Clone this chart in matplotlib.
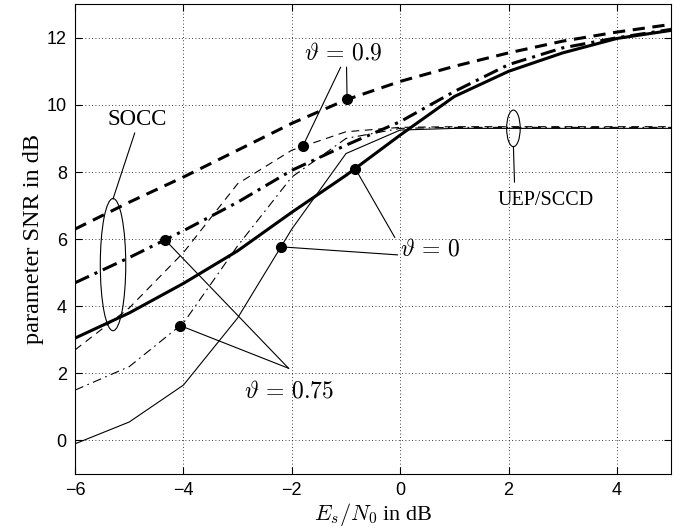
import numpy as np
import matplotlib
matplotlib.use('Agg')
import matplotlib.pyplot as plt
from matplotlib.patches import Ellipse

# Es/N0 in dB
esn0 = [-6, -5, -4, -3, -2, -1, 0, 1, 2, 3, 4, 5]

# SOCC curves (thick)
socc_09 = [6.3, 7.1, 7.85, 8.65, 9.45, 10.15, 10.7, 11.15, 11.55, 11.9, 12.17, 12.4]
socc_075 = [4.7, 5.45, 6.25, 7.1, 8.05, 8.8, 9.5, 10.4, 11.2, 11.7, 12.0, 12.25]
socc_0 = [3.05, 3.8, 4.68, 5.65, 6.8, 7.9, 9.1, 10.25, 11.0, 11.55, 11.98, 12.22]

# UEP/SCCD curves (thin)
uep_09 = [2.7, 3.95, 5.6, 7.65, 8.65, 9.2, 9.33, 9.35, 9.35, 9.35, 9.35, 9.35]
uep_075 = [1.5, 2.2, 3.5, 5.8, 7.85, 9.0, 9.3, 9.33, 9.33, 9.33, 9.33, 9.33]
uep_0 = [-0.1, 0.55, 1.65, 3.65, 6.3, 8.55, 9.25, 9.3, 9.3, 9.3, 9.3, 9.3]

plt.rcParams['mathtext.fontset'] = 'cm'
serif = 'Liberation Serif'

fig = plt.figure(figsize=(6.89, 5.29), dpi=100)
ax = fig.add_axes([0.109, 0.104, 0.865, 0.888])

ax.plot(esn0, socc_09, color='black', lw=2.2, dashes=(4, 2.5))
ax.plot(esn0, socc_075, color='black', lw=2.2, dashes=(5, 2, 1, 2))
ax.plot(esn0, socc_0, color='black', lw=2.2)
ax.plot(esn0, uep_09, color='black', lw=0.8, dashes=(7, 5))
ax.plot(esn0, uep_075, color='black', lw=0.8, dashes=(8, 4, 1.5, 4))
ax.plot(esn0, uep_0, color='black', lw=0.8)

# annotation dots sit on their curves
def dot(x, curve):
    y = np.interp(x, esn0, curve)
    ax.plot(x, y, 'o', color='black', ms=7)
    return x, y

d09a = dot(-1.8, uep_09)
d09b = dot(-0.98, socc_09)
d0a = dot(-2.2, uep_0)
d0b = dot(-0.83, socc_0)
d75a = dot(-4.06, uep_075)
d75b = dot(-4.34, socc_075)

def leader(start, end):
    ax.plot([start[0], end[0]], [start[1], end[1]], color='black', lw=0.8)

leader((-1.1, 11.12), d09a)
leader((-0.99, 11.12), d09b)
ax.text(-1.05, 11.55, r'$\vartheta\,=\,0.9$', fontsize=17, ha='center', va='center')

leader((-0.05, 5.53), d0a)
leader((-0.1, 6.05), d0b)
ax.text(0.55, 5.72, r'$\vartheta\,=\,0$', fontsize=17, ha='center', va='center')

leader((-2.06, 2.15), d75a)
leader((-2.06, 2.15), d75b)
ax.text(-2.06, 1.5, r'$\vartheta\,=\,0.75$', fontsize=17, ha='center', va='center')

# SOCC group marker
ax.add_patch(Ellipse((-5.3, 5.24), 0.47, 3.94, fill=False, ec='black', lw=0.8))
leader((-4.9, 9.16), (-5.3, 7.2))
ax.text(-4.85, 9.55, 'SOCC', fontsize=16.5, family=serif, ha='center', va='center')

# UEP/SCCD group marker
ax.add_patch(Ellipse((2.09, 9.3), 0.25, 1.09, fill=False, ec='black', lw=0.8))
leader((2.09, 8.75), (2.11, 7.7))
ax.text(2.68, 7.16, 'UEP/SCCD', fontsize=14.5, family=serif, ha='center', va='center')

ax.set_xlim(-6, 5)
ax.set_ylim(-1, 13)
ax.set_xticks([-6, -4, -2, 0, 2, 4])
ax.set_yticks([0, 2, 4, 6, 8, 10, 12])
ax.set_xticklabels(['\u22126', '\u22124', '\u22122', '0', '2', '4'])
ax.tick_params(direction='in', top=True, right=True, labelsize=13, length=5, pad=6)
for lab in ax.get_xticklabels() + ax.get_yticklabels():
    lab.set_family('Liberation Sans')
ax.grid(True, linestyle=(0, (1, 3)), color='black', lw=0.6)

ax.set_xlabel(r'$E_s/N_0$ in dB', fontsize=16, family=serif, labelpad=1)
ax.set_ylabel('parameter SNR in dB', fontsize=17.5, family=serif, labelpad=2)

fig.savefig('out.png', dpi=100)
